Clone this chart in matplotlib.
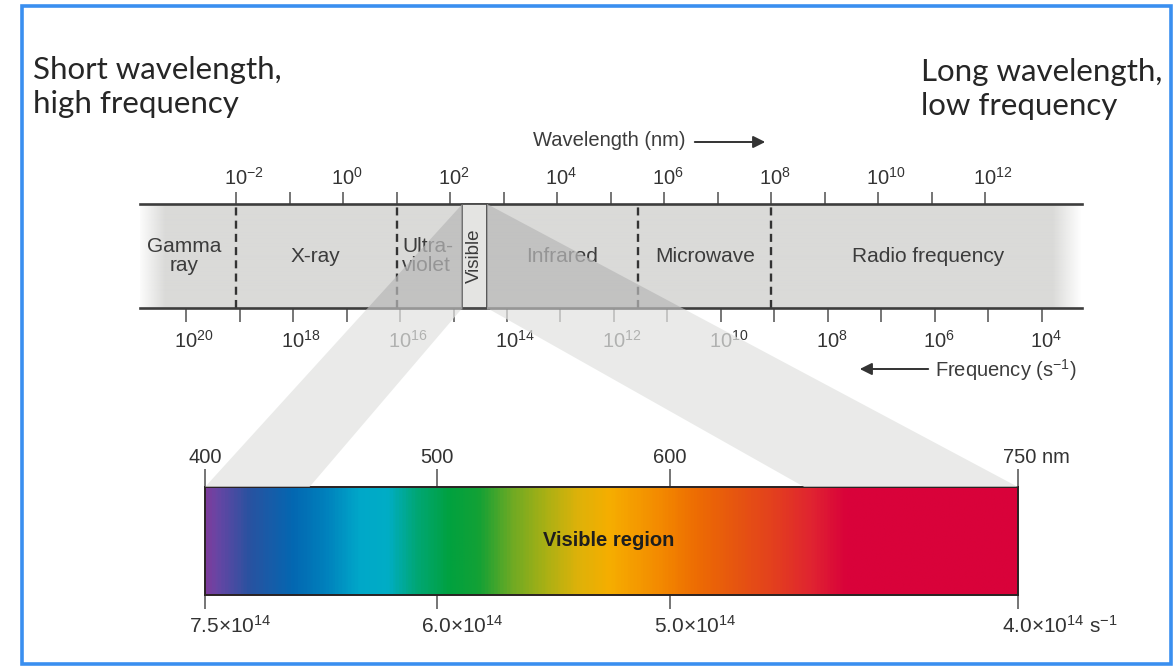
import numpy as np
import matplotlib.pyplot as plt
from matplotlib import transforms
from matplotlib.colors import LinearSegmentedColormap
from matplotlib.patches import Polygon, Rectangle
from matplotlib.ticker import NullLocator

# ------------------------------
#  fonts
# ------------------------------
plt.rcParams['font.family'] = ['Liberation Sans', 'DejaVu Sans']
plt.rcParams['mathtext.fontset'] = 'custom'
plt.rcParams['mathtext.rm'] = 'Liberation Sans'
plt.rcParams['mathtext.it'] = 'Liberation Sans:italic'
plt.rcParams['mathtext.bf'] = 'Liberation Sans:bold'

# ------------------------------
#  data
# ------------------------------
# top scale: wavelength in nm (one tick per decade, label every 2 decades)
wl_tick_exp = [-2, -1, 0, 1, 2, 3, 4, 5, 6, 7, 8, 9, 10, 11, 12]
wl_label_exp = [-2, 0, 2, 4, 6, 8, 10, 12]
# bottom scale: frequency in s^-1
fr_tick_exp = [20, 19, 18, 17, 16, 15, 14, 13, 12, 11, 10, 9, 8, 7, 6, 5, 4]
fr_label_exp = [20, 18, 16, 14, 12, 10, 8, 6, 4]
# frequency = nu_lam / wavelength, as drawn in this figure
nu_lam = 1.16e17

# region borders (nm) drawn as dashed lines, and the visible slit
boundaries_nm = [1e-2, 1e1, 3.3e5, 1e8]
visible_nm = [170, 490]
region_names = ['Gamma\nray', 'X-ray', 'Ultra-\nviolet', 'Infrared', 'Microwave', 'Radio frequency']
region_label_nm = [1.07e-3, 0.31, 12.6, 1.23e4, 5.9e6, 8.5e10]

# visible bar
bar_wl_ticks = [400, 500, 600, 750]
bar_wl_labels = ['400', '500', '600', '750 nm']
bar_fr_labels = ['7.5×10$^{14}$', '6.0×10$^{14}$', '5.0×10$^{14}$', '4.0×10$^{14}$ s$^{-1}$']
spec_nm = [400, 404, 418, 437, 452, 466, 478, 490, 505, 518, 532, 546, 560, 574, 597, 612, 630, 645, 662, 676, 750]
spec_colors = ['#7b3c9c', '#6a45a4', '#2a52a0', '#0467b1', '#0082bd', '#00a8c9', '#00adc6', '#00a778',
               '#00a13f', '#14a135', '#6eaa24', '#a7b015', '#dcb20a', '#f6ae00', '#f38800', '#ed6c03',
               '#e65411', '#e3401e', '#e02331', '#d9033a', '#d9023a']

# ------------------------------
#  figure
# ------------------------------
W, H = 1175, 667
fig = plt.figure(figsize=(W / 100, H / 100), dpi=100)


def px_rect(x0, y0, x1, y1):
    return [x0 / W, 1 - y1 / H, (x1 - x0) / W, (y1 - y0) / H]


# page axes in pixel units (border, headers, arrows)
ax_page = fig.add_axes([0, 0, 1, 1], zorder=0)
ax_page.set_xlim(0, W)
ax_page.set_ylim(H, 0)
ax_page.axis('off')
ax_page.add_patch(Rectangle((22, 6), 1149, 658, fill=False, edgecolor='#3a8ff0', lw=2.6))

head_kw = dict(fontsize=22.5, color='#262626', family=['Lato', 'DejaVu Sans'], va='baseline')
ax_page.text(33, 79, 'Short wavelength,', **head_kw)
ax_page.text(33, 113, 'high frequency', **head_kw)
ax_page.text(921, 81, 'Long wavelength,', **head_kw)
ax_page.text(921, 115, 'low frequency', **head_kw)

txt_col = '#3c3c3c'
ax_page.text(533, 141, 'Wavelength (nm)', fontsize=14.5, color=txt_col, va='center', ha='left')
ax_page.annotate('', xy=(768, 142), xytext=(692, 142),
                 arrowprops=dict(arrowstyle='-|>', color='#333333', lw=1.4, mutation_scale=18))
ax_page.text(935, 370, 'Frequency (s$^{-1}$)', fontsize=14.5, color=txt_col, va='center', ha='left')
ax_page.annotate('', xy=(857, 369), xytext=(931, 369),
                 arrowprops=dict(arrowstyle='-|>', color='#333333', lw=1.4, mutation_scale=18))

# ------------------------------
#  spectrum band
# ------------------------------
band_box = px_rect(140, 204, 1082, 308)
ax_bg = fig.add_axes(band_box, zorder=0.5)
ax_bg.axis('off')
ncol = 942
alpha = np.ones(ncol)
alpha[:26] = np.linspace(0.1, 1, 26)
alpha[-30:] = np.linspace(1, 0, 30)
rgba = np.zeros((1, ncol, 4))
rgba[..., :3] = np.array([218, 218, 216]) / 255
rgba[0, :, 3] = alpha
ax_bg.imshow(rgba, extent=(0, 1, 0, 1), aspect='auto', interpolation='bilinear')
ax_bg.set_xlim(0, 1)
ax_bg.set_ylim(0, 1)

ax_band = fig.add_axes(band_box, zorder=1)
ax_band.set_facecolor('none')
ax_band.set_xscale('log')
ax_band.set_xlim(1.6e-4, 6.5e13)
ax_band.set_ylim(0, 1)
for s in ['left', 'right']:
    ax_band.spines[s].set_visible(False)
for s in ['top', 'bottom']:
    ax_band.spines[s].set_color('#3d3d3d')
    ax_band.spines[s].set_linewidth(1.9)
ax_band.set_yticks([])
ax_band.xaxis.set_ticks_position('top')
ax_band.set_xticks([10.0 ** e for e in wl_tick_exp])
ax_band.xaxis.set_minor_locator(NullLocator())
ax_band.tick_params(axis='x', direction='out', length=9, width=1.3, color='#6a6a6a',
                    labeltop=False, labelbottom=False)

sec = ax_band.secondary_xaxis('bottom', functions=(lambda l: nu_lam / np.maximum(l, 1e-300),
                                                   lambda n: nu_lam / np.maximum(n, 1e-300)))
sec.set_xticks([10.0 ** e for e in fr_tick_exp])
sec.xaxis.set_minor_locator(NullLocator())
sec.tick_params(axis='x', direction='out', length=10, width=1.3, color='#6a6a6a', labelbottom=False)
sec.spines['bottom'].set_visible(False)

# tick labels: the "10" sits on the tick, exponent hangs to the right
top_tr = transforms.offset_copy(ax_band.get_xaxis_transform(), fig=fig, x=-12, y=19, units='dots')
bot_tr = transforms.offset_copy(ax_band.get_xaxis_transform(), fig=fig, x=-12, y=-40, units='dots')
for e in wl_label_exp:
    ax_band.text(10.0 ** e, 1, '10$^{%d}$' % e, transform=top_tr, ha='left', va='baseline',
                 fontsize=14.5, color='#333333')
for e in fr_label_exp:
    ax_band.text(nu_lam / 10.0 ** e, 0, '10$^{%d}$' % e, transform=bot_tr, ha='left', va='baseline',
                 fontsize=14.5, color='#333333')

for b in boundaries_nm:
    ax_band.plot([b, b], [0, 1], ls=(0, (3.4, 2.2)), color='#333333', lw=1.7, clip_on=False)

ax_band.add_patch(Rectangle((visible_nm[0], 0), visible_nm[1] - visible_nm[0], 1,
                            facecolor='#e4e4e2', edgecolor='#4a4a4a', lw=1.3, clip_on=False, zorder=3))
ax_band.text(np.sqrt(visible_nm[0] * visible_nm[1]), 0.5, 'Visible', rotation=90, ha='center',
             va='center', fontsize=13.5, color=txt_col, zorder=4)

for name, x in zip(region_names, region_label_nm):
    ha = 'left' if name.startswith('Ultra') else 'center'
    ax_band.text(x, 0.5, name, ha=ha, va='center', fontsize=15, color=txt_col, linespacing=1.0)

# ------------------------------
#  visible bar
# ------------------------------
ax_bar = fig.add_axes(px_rect(205, 487, 1018, 595), zorder=1)
cmap = LinearSegmentedColormap.from_list(
    'spec', [((w - spec_nm[0]) / (spec_nm[-1] - spec_nm[0]), c) for w, c in zip(spec_nm, spec_colors)])
grad = np.linspace(spec_nm[0], spec_nm[-1], 700)[None, :]
ax_bar.imshow(grad, extent=(spec_nm[0], spec_nm[-1], 0, 1), aspect='auto', cmap=cmap,
              vmin=spec_nm[0], vmax=spec_nm[-1], interpolation='bilinear')
ax_bar.set_xlim(400, 750)
ax_bar.set_ylim(0, 1)
ax_bar.set_yticks([])
for s in ax_bar.spines.values():
    s.set_color('#2a2222')
    s.set_linewidth(1.4)
ax_bar.set_xticks(bar_wl_ticks)
ax_bar.tick_params(axis='x', direction='out', length=10, width=1.3, color='#6a6a6a', labelbottom=False)
bar_top = ax_bar.secondary_xaxis('top')
bar_top.set_xticks(bar_wl_ticks)
bar_top.tick_params(axis='x', direction='out', length=13, width=1.3, color='#6a6a6a', labeltop=False)
bar_top.spines['top'].set_visible(False)

lab_top = transforms.offset_copy(ax_bar.get_xaxis_transform(), fig=fig, x=0, y=24, units='dots')
lab_top_l = transforms.offset_copy(ax_bar.get_xaxis_transform(), fig=fig, x=-15, y=24, units='dots')
lab_bot = transforms.offset_copy(ax_bar.get_xaxis_transform(), fig=fig, x=-16, y=-38, units='dots')
for w, lab in zip(bar_wl_ticks, bar_wl_labels):
    if ' ' in lab:
        ax_bar.text(w, 1, lab, transform=lab_top_l, ha='left', va='baseline', fontsize=14.5, color='#333333')
    else:
        ax_bar.text(w, 1, lab, transform=lab_top, ha='center', va='baseline', fontsize=14.5, color='#333333')
for w, lab in zip(bar_wl_ticks, bar_fr_labels):
    ax_bar.text(w, 0, lab, transform=lab_bot, ha='left', va='baseline', fontsize=15, color='#333333')

ax_bar.text(574, 0.5, 'Visible region', ha='center', va='center', fontsize=14.5,
            fontweight='bold', color='#1e1e1e')

# ------------------------------
#  projection of the visible slit onto the bar
# ------------------------------
to_fig = fig.transFigure.inverted()


def fpt(ax, x, y):
    return to_fig.transform(ax.transData.transform((x, y)))


def on_edge(p, q, y):
    t = (y - p[1]) / (q[1] - p[1])
    return p + t * (q - p)


dy = 1.6 / H
v_tl, v_bl = fpt(ax_band, visible_nm[0], 1), fpt(ax_band, visible_nm[0], 0)
v_tr, v_br = fpt(ax_band, visible_nm[1], 1), fpt(ax_band, visible_nm[1], 0)
b_l, b_r = fpt(ax_bar, 400, 1), fpt(ax_bar, 750, 1)
in_l, in_r = fpt(ax_bar, 445, 1), fpt(ax_bar, 658, 1)
y_cut = v_bl[1] - dy

for top, bot, outer, inner in [(v_tl, v_bl, b_l, in_l), (v_tr, v_br, b_r, in_r)]:
    e_pt = on_edge(top, outer, y_cut)
    i_pt = on_edge(bot, inner, y_cut)
    fig.add_artist(Polygon([top, e_pt, [bot[0], y_cut]], closed=True, transform=fig.transFigure,
                           facecolor='#b9b9b9', alpha=0.72, lw=0, zorder=2))
    fig.add_artist(Polygon([e_pt, i_pt, inner, outer], closed=True, transform=fig.transFigure,
                           facecolor='#e2e3e1', alpha=0.72, lw=0, zorder=2))

fig.savefig('out.png', dpi=100, facecolor='white')
